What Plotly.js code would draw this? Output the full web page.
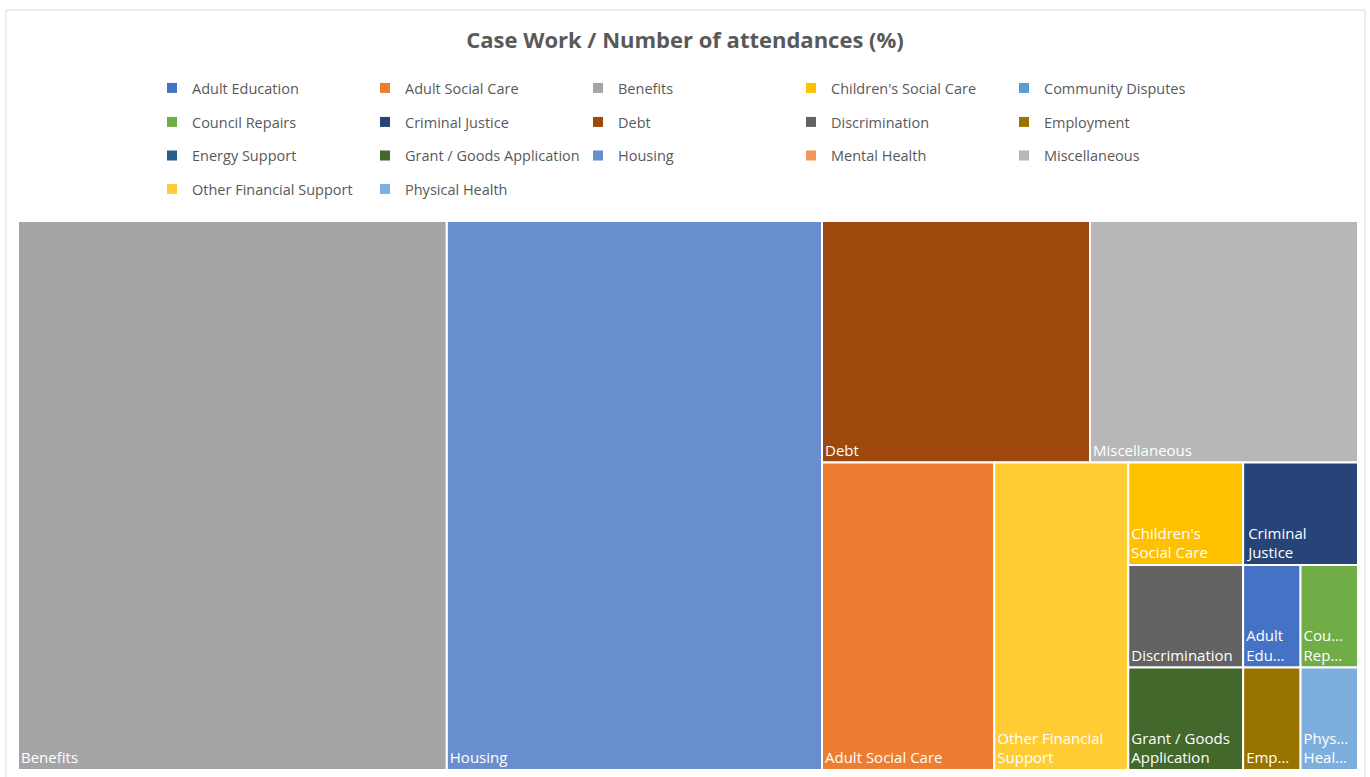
<!DOCTYPE html>
<html><head><meta charset="utf-8">
<script src="https://cdn.plot.ly/plotly-3.0.1.min.js"></script>
<style>html,body{margin:0;padding:0;background:#fff}#chart{width:1370px;height:777px}</style>
</head><body><div id="chart"></div>
<script>
// Categories (legend order)
const categories = ["Adult Education", "Adult Social Care", "Benefits", "Children's Social Care", "Community Disputes",
  "Council Repairs", "Criminal Justice", "Debt", "Discrimination", "Employment",
  "Energy Support", "Grant / Goods Application", "Housing", "Mental Health", "Miscellaneous",
  "Other Financial Support", "Physical Health"];
// Share of attendances (%)
const values = [0.8, 7.2, 32, 1.6, 0, 0.8, 1.6, 8.8, 1.6, 0.8, 0, 1.6, 28, 0, 8.8, 5.6, 0.8];
// Text shown inside the cells (wrapped / truncated as in the original)
const cellLabels = ["Adult<br>Edu…", "Adult Social Care", "Benefits", "Children's<br>Social Care", "Community Disputes",
  "Cou…<br>Rep…", "Criminal<br>Justice", "Debt", "Discrimination", "Emp…",
  "Energy Support", "Grant / Goods<br>Application", "Housing", "Mental Health", "Miscellaneous",
  "Other Financial<br>Support", "Phys…<br>Heal…"];
const colors = ["#4472C4", "#ED7D31", "#A5A5A5", "#FFC000", "#5B9BD5",
  "#70AD47", "#264478", "#9E480E", "#636363", "#997300",
  "#255E91", "#43682B", "#698ED0", "#F1975A", "#B7B7B7",
  "#FFCD33", "#7CAFDD"];

const FONT = "Open Sans, Liberation Sans, sans-serif";
const shown = categories.map((c, i) => i).filter(i => values[i] > 0);

const treemap = {
  type: "treemap",
  labels: shown.map(i => categories[i]),
  parents: shown.map(() => ""),
  values: shown.map(i => values[i]),
  text: shown.map(i => cellLabels[i]),
  texttemplate: "%{text}",
  textposition: "bottom left",
  marker: { colors: shown.map(i => colors[i]), line: { color: "#ffffff", width: 2 },
    pad: { t: 0, l: 0, r: 0, b: 0 } },
  tiling: { packing: "squarify", squarifyratio: 1, pad: 0 },
  pathbar: { visible: false },
  sort: true,
  textfont: { family: FONT, size: 15, color: "#ffffff" },
  insidetextfont: { family: FONT, size: 15, color: "#ffffff" },
  hoverinfo: "label+value",
  domain: { x: [18 / 1370, 1358 / 1370], y: [7 / 777, 556 / 777] },
  showlegend: false
};

const legendNames = ["legend", "legend2", "legend3", "legend4"];
const legendTraces = categories.map((c, i) => ({
  type: "scatter", mode: "markers", x: [null], y: [null], name: c,
  marker: { symbol: "square", size: 10, color: colors[i] },
  legend: legendNames[Math.floor(i / 5)],
  showlegend: true, hoverinfo: "skip"
}));

const rowY = [88, 122, 155.5, 189];
const legendBase = (k) => ({
  orientation: "h", x: 152 / 1370, xanchor: "left", y: 1 - rowY[k] / 777, yanchor: "middle",
  entrywidth: 168, entrywidthmode: "pixels", itemwidth: 30,
  font: { family: FONT, size: 14.5, color: "#595959" }, bgcolor: "rgba(0,0,0,0)",
  itemclick: false, itemdoubleclick: false
});

const layout = {
  width: 1370, height: 777,
  margin: { l: 0, r: 0, t: 0, b: 0 },
  paper_bgcolor: "#ffffff", plot_bgcolor: "#ffffff",
  title: { text: "Case Work / Number of attendances (%)", font: { family: FONT, size: 22, color: "#595959", weight: "bold" },
    x: 0.5, xanchor: "center", xref: "paper", y: 1 - 40 / 777, yanchor: "middle", yref: "container" },
  xaxis: { visible: false }, yaxis: { visible: false },
  legend: legendBase(0), legend2: legendBase(1), legend3: legendBase(2), legend4: legendBase(3),
  shapes: [{ type: "rect", xref: "paper", yref: "paper", x0: 6 / 1370, x1: 1365 / 1370, y0: -0.05, y1: 1 - 10 / 777,
    line: { color: "#D9D9D9", width: 1 }, fillcolor: "rgba(0,0,0,0)", layer: "below" }]
};

Plotly.newPlot("chart", [treemap].concat(legendTraces), layout, { displayModeBar: false });
</script>
</body></html>
